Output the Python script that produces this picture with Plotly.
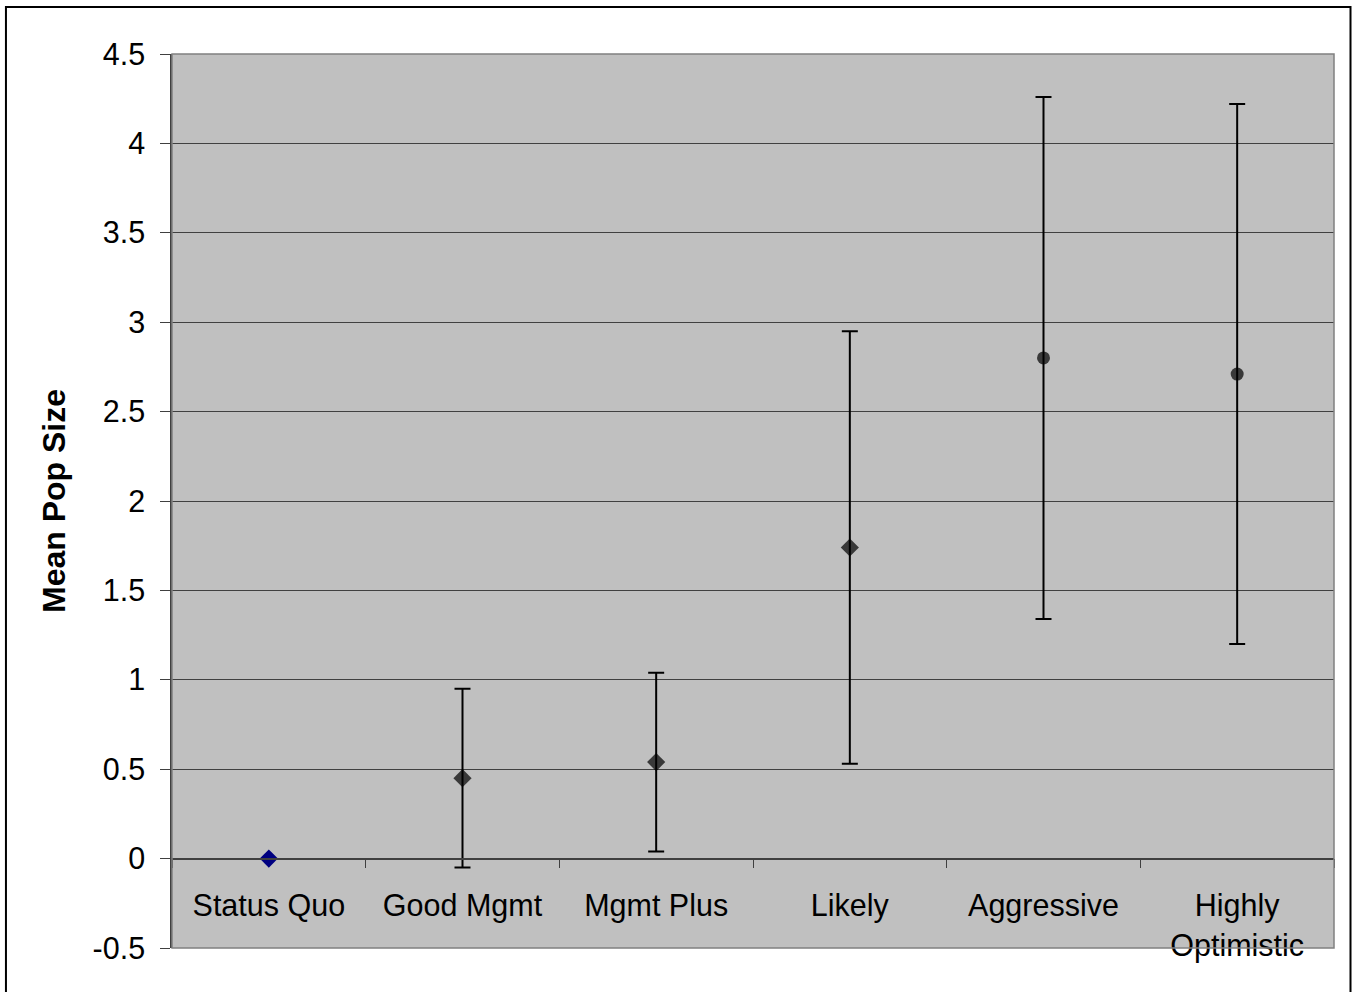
import plotly.graph_objects as go

categories = ["Status Quo", "Good Mgmt", "Mgmt Plus", "Likely", "Aggressive", "Highly<br>Optimistic"]
means = [0.0, 0.45, 0.54, 1.74, 2.80, 2.71]
errors = [0.0, 0.50, 0.50, 1.21, 1.46, 1.51]
symbols = ["diamond", "diamond", "diamond", "diamond", "circle", "circle"]
y_ticks = [-0.5, 0, 0.5, 1, 1.5, 2, 2.5, 3, 3.5, 4, 4.5]

FONT = "Liberation Sans, Arial, sans-serif"

fig = go.Figure()

# Series with error bars
fig.add_trace(go.Scatter(
    x=categories[1:], y=means[1:], mode="markers",
    marker=dict(symbol=symbols[1:], size=[14, 14, 14, 13, 13], color="black",
                line=dict(width=0)),
    error_y=dict(type="data", array=errors[1:], visible=True, color="black",
                 thickness=2, width=8),
    showlegend=False, hoverinfo="x+y"))

# Status quo point
fig.add_trace(go.Scatter(
    x=categories[:1], y=means[:1], mode="markers",
    marker=dict(symbol=symbols[0], size=14, color="#000080", line=dict(width=0)),
    showlegend=False, hoverinfo="x+y"))

fig.update_layout(
    width=1354, height=992,
    margin=dict(l=172, r=20, t=54, b=44),
    paper_bgcolor="white", plot_bgcolor="#C0C0C0",
    font=dict(family=FONT, size=30.5, color="black"),
    xaxis=dict(
        type="category", categoryorder="array", categoryarray=categories,
        range=[-0.5, 5.5], anchor="free", position=0.1,
        showline=True, linecolor="#404040", linewidth=1.5,
        ticks="outside", ticklen=9, tickcolor="#404040", tickwidth=1,
        tickson="boundaries", showgrid=False, zeroline=False,
        tickfont=dict(size=30.5, family=FONT, color="black"),
        ticklabelstandoff=20,
    ),
    yaxis=dict(
        range=[-0.5, 4.5], tickvals=y_ticks,
        ticktext=[("%g" % v) for v in y_ticks],
        showgrid=True, gridcolor="#404040", gridwidth=1,
        zeroline=False, showline=True, linecolor="#404040", linewidth=1.5,
        ticks="outside", ticklen=10, tickcolor="#404040",
        tickfont=dict(size=30.5, family=FONT, color="black"),
        ticklabelstandoff=9,
        title=dict(text="<b>Mean Pop Size</b>", font=dict(size=32, family=FONT),
                   standoff=17),
    ),
    shapes=[
        # plot area border (top/right/bottom)
        dict(type="rect", xref="paper", yref="paper", x0=0, x1=1, y0=0, y1=1,
             line=dict(color="#808080", width=1.5), layer="above"),
        # outer chart frame
        dict(type="rect", xref="paper", yref="paper",
             x0=-0.1429, x1=1.0142, y0=-0.06, y1=1.0526,
             line=dict(color="black", width=2), layer="above"),
    ],
)

fig.write_html(
    "out.html",
    config={"displayModeBar": False},
    post_script="document.body.style.margin='0';document.body.style.overflow='hidden';",
)
